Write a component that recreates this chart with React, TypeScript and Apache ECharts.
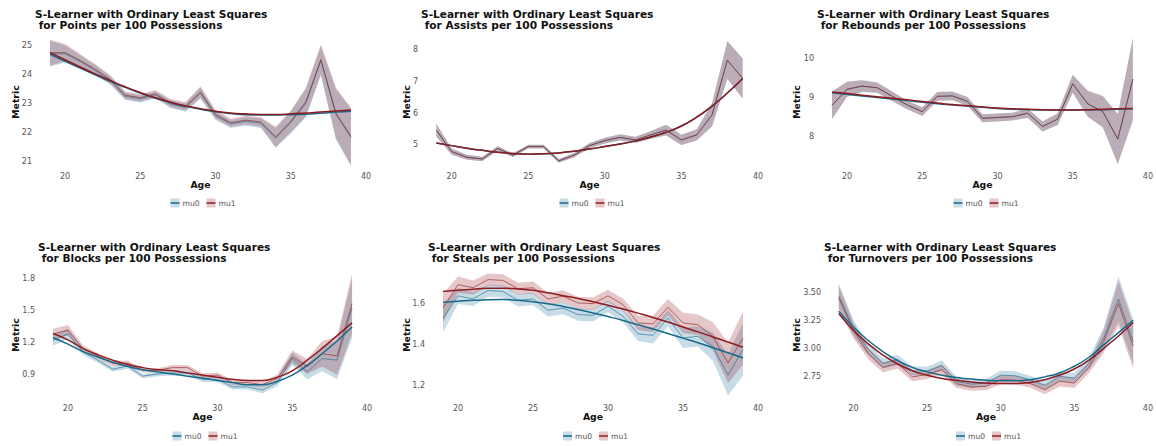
import React, { useEffect, useRef } from "react";
import * as echarts from "echarts";

const ages = [19, 20, 21, 22, 23, 24, 25, 26, 27, 28, 29, 30, 31, 32, 33, 34, 35, 36, 37, 38, 39];
const xTicks = [20, 25, 30, 35, 40];

const metrics = ["Points", "Assists", "Rebounds", "Blocks", "Steals", "Turnovers"];

// Points
const ptsMu0 = [24.73, 24.73, 24.46, 24.15, 23.8, 23.25, 23.16, 23.3, 22.98, 22.86, 23.36, 22.58, 22.29, 22.38, 22.32, 21.8, 22.34, 23.01, 24.49, 22.63, 21.82];
const ptsMu1 = [24.77, 24.77, 24.5, 24.19, 23.84, 23.29, 23.2, 23.34, 23.02, 22.9, 23.4, 22.62, 22.33, 22.42, 22.36, 21.84, 22.38, 23.05, 24.53, 22.67, 21.86];
const ptsHw = [0.45, 0.3, 0.22, 0.18, 0.15, 0.13, 0.13, 0.13, 0.14, 0.15, 0.2, 0.15, 0.14, 0.15, 0.17, 0.35, 0.38, 0.5, 0.52, 0.88, 1.0];
const ptsFit0 = [24.71, 24.47, 24.23, 24.0, 23.77, 23.56, 23.36, 23.18, 23.03, 22.9, 22.8, 22.71, 22.65, 22.61, 22.6, 22.6, 22.61, 22.63, 22.66, 22.7, 22.73];
const ptsFit1 = [24.77, 24.52, 24.27, 24.03, 23.8, 23.58, 23.38, 23.2, 23.05, 22.92, 22.82, 22.73, 22.67, 22.64, 22.62, 22.62, 22.64, 22.67, 22.7, 22.74, 22.77];

// Assists
const astMu0 = [5.47, 4.79, 4.61, 4.56, 4.89, 4.68, 4.95, 4.95, 4.5, 4.68, 4.98, 5.14, 5.24, 5.16, 5.32, 5.47, 5.16, 5.32, 5.95, 7.68, 7.1];
const astMu1 = [5.47, 4.79, 4.61, 4.56, 4.89, 4.68, 4.95, 4.95, 4.5, 4.68, 4.98, 5.14, 5.24, 5.16, 5.32, 5.47, 5.16, 5.32, 5.95, 7.68, 7.1];
const astHw = [0.2, 0.1, 0.08, 0.07, 0.07, 0.06, 0.06, 0.06, 0.06, 0.07, 0.08, 0.09, 0.1, 0.1, 0.12, 0.17, 0.16, 0.18, 0.37, 0.6, 0.63];
const astFit0 = [5.06, 4.98, 4.9, 4.83, 4.77, 4.73, 4.71, 4.72, 4.75, 4.8, 4.87, 4.95, 5.03, 5.13, 5.25, 5.4, 5.6, 5.88, 6.23, 6.64, 7.1];
const astFit1 = [5.06, 4.98, 4.9, 4.83, 4.77, 4.73, 4.71, 4.72, 4.75, 4.8, 4.87, 4.95, 5.03, 5.13, 5.25, 5.4, 5.6, 5.88, 6.23, 6.64, 7.1];

// Rebounds
const rebMu0 = [8.8, 9.21, 9.29, 9.25, 9.03, 8.81, 8.64, 9.03, 9.04, 8.9, 8.47, 8.49, 8.51, 8.6, 8.26, 8.45, 9.35, 8.84, 8.64, 7.94, 9.47];
const rebMu1 = [8.8, 9.21, 9.29, 9.25, 9.03, 8.81, 8.64, 9.03, 9.04, 8.9, 8.47, 8.49, 8.51, 8.6, 8.26, 8.45, 9.35, 8.84, 8.64, 7.94, 9.47];
const rebHw = [0.35, 0.19, 0.15, 0.13, 0.12, 0.11, 0.11, 0.11, 0.11, 0.11, 0.1, 0.1, 0.1, 0.12, 0.13, 0.15, 0.23, 0.33, 0.4, 0.64, 1.05];
const rebFit0 = [9.12, 9.08, 9.04, 9.0, 8.96, 8.92, 8.88, 8.84, 8.81, 8.78, 8.75, 8.72, 8.7, 8.69, 8.68, 8.68, 8.68, 8.68, 8.69, 8.7, 8.71];
const rebFit1 = [9.14, 9.1, 9.06, 9.02, 8.98, 8.94, 8.9, 8.86, 8.82, 8.79, 8.76, 8.73, 8.71, 8.7, 8.69, 8.68, 8.68, 8.69, 8.7, 8.71, 8.72];

// Blocks
const blkMu0 = [1.215, 1.275, 1.11, 1.03, 0.945, 0.975, 0.88, 0.9, 0.91, 0.91, 0.85, 0.85, 0.78, 0.78, 0.75, 0.82, 1.045, 0.92, 1.045, 1.03, 1.52];
const blkMu1 = [1.275, 1.31, 1.14, 1.07, 1.0, 1.0, 0.935, 0.935, 0.96, 0.96, 0.88, 0.89, 0.82, 0.82, 0.8, 0.86, 1.06, 0.97, 1.09, 1.07, 1.56];
const blkHw = [0.05, 0.05, 0.03, 0.025, 0.025, 0.025, 0.02, 0.02, 0.025, 0.025, 0.025, 0.025, 0.025, 0.025, 0.03, 0.035, 0.06, 0.07, 0.12, 0.18, 0.28];
const blkFit0 = [1.24, 1.18, 1.11, 1.06, 1.01, 0.97, 0.94, 0.92, 0.9, 0.88, 0.86, 0.84, 0.82, 0.8, 0.8, 0.83, 0.89, 0.98, 1.09, 1.21, 1.34];
const blkFit1 = [1.28, 1.22, 1.14, 1.08, 1.03, 0.99, 0.96, 0.94, 0.93, 0.91, 0.89, 0.87, 0.85, 0.84, 0.84, 0.87, 0.93, 1.03, 1.14, 1.26, 1.38];

// Steals
const stlMu0 = [1.53, 1.64, 1.625, 1.666, 1.662, 1.618, 1.625, 1.569, 1.58, 1.548, 1.544, 1.589, 1.54, 1.453, 1.446, 1.531, 1.433, 1.441, 1.39, 1.25, 1.377];
const stlMu1 = [1.58, 1.695, 1.68, 1.72, 1.716, 1.675, 1.68, 1.625, 1.638, 1.605, 1.602, 1.64, 1.597, 1.507, 1.502, 1.584, 1.507, 1.498, 1.44, 1.31, 1.433];
const stlHw = [0.07, 0.04, 0.035, 0.03, 0.03, 0.03, 0.03, 0.03, 0.03, 0.03, 0.03, 0.03, 0.03, 0.035, 0.04, 0.04, 0.05, 0.05, 0.07, 0.1, 0.13];
const stlFit0 = [1.608, 1.614, 1.618, 1.621, 1.622, 1.618, 1.611, 1.601, 1.588, 1.573, 1.556, 1.538, 1.519, 1.498, 1.477, 1.455, 1.432, 1.409, 1.385, 1.36, 1.334];
const stlFit1 = [1.662, 1.668, 1.673, 1.677, 1.678, 1.674, 1.667, 1.655, 1.641, 1.627, 1.611, 1.594, 1.575, 1.555, 1.534, 1.511, 1.487, 1.463, 1.438, 1.413, 1.387];

// Turnovers
const tovMu0 = [3.47, 3.18, 2.99, 2.865, 2.895, 2.8, 2.795, 2.845, 2.705, 2.68, 2.69, 2.76, 2.755, 2.72, 2.67, 2.75, 2.735, 2.865, 3.09, 3.44, 3.06];
const tovMu1 = [3.45, 3.16, 2.955, 2.83, 2.865, 2.745, 2.765, 2.81, 2.685, 2.655, 2.66, 2.72, 2.715, 2.685, 2.63, 2.705, 2.69, 2.83, 3.06, 3.4, 3.02];
const tovHw = [0.11, 0.07, 0.05, 0.045, 0.045, 0.04, 0.04, 0.045, 0.04, 0.035, 0.035, 0.04, 0.04, 0.035, 0.04, 0.045, 0.045, 0.05, 0.1, 0.2, 0.2];
const tovFit0 = [3.33, 3.19, 3.07, 2.97, 2.89, 2.83, 2.79, 2.76, 2.74, 2.725, 2.715, 2.71, 2.71, 2.72, 2.745, 2.78, 2.84, 2.92, 3.03, 3.14, 3.25];
const tovFit1 = [3.31, 3.16, 3.04, 2.94, 2.86, 2.8, 2.76, 2.73, 2.715, 2.7, 2.69, 2.685, 2.685, 2.695, 2.72, 2.76, 2.815, 2.895, 3.0, 3.11, 3.23];

const yTicks = [
  [21, 22, 23, 24, 25],
  [5, 6, 7, 8],
  [8, 9, 10],
  [0.9, 1.2, 1.5, 1.8],
  [1.2, 1.4, 1.6],
  [2.75, 3.0, 3.25, 3.5],
];
const yDecimals = [0, 0, 0, 1, 1, 2];

const panels = [
  { mu0: ptsMu0, mu1: ptsMu1, hw: ptsHw, fit0: ptsFit0, fit1: ptsFit1 },
  { mu0: astMu0, mu1: astMu1, hw: astHw, fit0: astFit0, fit1: astFit1 },
  { mu0: rebMu0, mu1: rebMu1, hw: rebHw, fit0: rebFit0, fit1: rebFit1 },
  { mu0: blkMu0, mu1: blkMu1, hw: blkHw, fit0: blkFit0, fit1: blkFit1 },
  { mu0: stlMu0, mu1: stlMu1, hw: stlHw, fit0: stlFit0, fit1: stlFit1 },
  { mu0: tovMu0, mu1: tovMu1, hw: tovHw, fit0: tovFit0, fit1: tovFit1 },
];

// layout (pixels) and axis extents
const layout = [
  { left: 35, top: 34, width: 331, height: 136, ymin: 20.687, ymax: 25.417, nameGap: 15 },
  { left: 421, top: 34, width: 337, height: 136, ymin: 4.21, ymax: 8.505, nameGap: 10.5 },
  { left: 817, top: 34, width: 333, height: 136, ymin: 7.15, ymax: 10.62, nameGap: 16 },
  { left: 38, top: 268, width: 329, height: 134, ymin: 0.6375, ymax: 1.894, nameGap: 18 },
  { left: 428, top: 268, width: 330, height: 134, ymin: 1.118, ymax: 1.777, nameGap: 17 },
  { left: 824, top: 268, width: 324, height: 134, ymin: 2.5205, ymax: 3.717, nameGap: 23 },
];

const FONT = "DejaVu Sans";
const C0 = "#17698a";
const C1 = "#8e1b20";
const B0 = "rgba(70,140,175,0.3)";
const B1 = "rgba(150,30,40,0.25)";

export default function App() {
  const ref = useRef<HTMLDivElement>(null);
  useEffect(() => {
    document.body.style.margin = "0";
    const chart = echarts.init(ref.current!, null, { renderer: "svg" });

    const grid: any[] = [];
    const xAxis: any[] = [];
    const yAxis: any[] = [];
    const title: any[] = [];
    const series: any[] = [];
    const graphic: any[] = [];

    layout.forEach((L, i) => {
      grid.push({ left: L.left, top: L.top, width: L.width, height: L.height });
      xAxis.push({
        type: "value",
        gridIndex: i,
        min: 18,
        max: 40,
        axisLine: { show: false },
        axisTick: { show: false },
        splitLine: { show: false },
        axisLabel: { customValues: xTicks, fontSize: 8, color: "#555", margin: 2, fontFamily: FONT },
        name: "Age",
        nameLocation: "middle",
        nameGap: 10,
        nameMoveOverlap: false,
        nameTextStyle: { fontSize: 9.3, fontWeight: "bold", color: "#111", fontFamily: FONT, verticalAlign: "top" },
      });
      yAxis.push({
        type: "value",
        gridIndex: i,
        min: L.ymin,
        max: L.ymax,
        axisLine: { show: false },
        axisTick: { show: false },
        splitLine: { show: false },
        axisLabel: {
          customValues: yTicks[i],
          fontSize: 8,
          color: "#555",
          margin: 3,
          fontFamily: FONT,
          formatter: (v: number) => v.toFixed(yDecimals[i]),
        },
        name: "Metric",
        nameLocation: "middle",
        nameGap: L.nameGap,
        nameMoveOverlap: false,
        nameTextStyle: { fontSize: 9.3, fontWeight: "bold", color: "#111", fontFamily: FONT },
      });
      title.push({
        text: "S-Learner with Ordinary Least Squares\n\u00a0for " + metrics[i] + " per 100 Possessions",
        left: L.left,
        top: L.top < 100 ? 8 : 241,
        padding: 0,
        textStyle: { fontSize: 10.6, fontWeight: "bold", color: "#111", fontFamily: FONT, lineHeight: 11.5 },
      });

      const P = panels[i];
      const band = (vals: number[], color: string) => ({
        type: "custom",
        xAxisIndex: i,
        yAxisIndex: i,
        silent: true,
        z: 1,
        data: ages.map((a, k) => [a, vals[k] - P.hw[k], vals[k] + P.hw[k]]),
        encode: { x: 0, y: [1, 2] },
        renderItem: (params: any, api: any) => {
          if (params.dataIndex !== 0) return null;
          const upper = ages.map((a, k) => api.coord([a, vals[k] + P.hw[k]]));
          const lower = ages.map((a, k) => api.coord([a, vals[k] - P.hw[k]])).reverse();
          return { type: "polygon", shape: { points: upper.concat(lower) }, style: { fill: color } };
        },
      });
      series.push(band(P.mu0, B0), band(P.mu1, B1));
      series.push(
        {
          type: "line", name: "mu0", xAxisIndex: i, yAxisIndex: i, symbol: "none", z: 2,
          lineStyle: { color: C0, width: 1, opacity: 0.6 },
          data: ages.map((a, k) => [a, P.mu0[k]]),
        },
        {
          type: "line", name: "mu1", xAxisIndex: i, yAxisIndex: i, symbol: "none", z: 2,
          lineStyle: { color: C1, width: 1, opacity: 0.6 },
          data: ages.map((a, k) => [a, P.mu1[k]]),
        },
        {
          type: "line", name: "mu0", xAxisIndex: i, yAxisIndex: i, symbol: "none", z: 3, smooth: true,
          lineStyle: { color: C0, width: 1.5 },
          data: ages.map((a, k) => [a, P.fit0[k]]),
        },
        {
          type: "line", name: "mu1", xAxisIndex: i, yAxisIndex: i, symbol: "none", z: 3, smooth: true,
          lineStyle: { color: C1, width: 1.5 },
          data: ages.map((a, k) => [a, P.fit1[k]]),
        }
      );

      const cx = L.left + L.width / 2;
      const cy = L.top < 100 ? 203 : 436;
      graphic.push(
        { type: "rect", shape: { x: cx - 30, y: cy - 4.5, width: 9, height: 9 }, style: { fill: B0 } },
        { type: "line", shape: { x1: cx - 30, y1: cy, x2: cx - 21, y2: cy }, style: { stroke: C0, lineWidth: 1.5 } },
        { type: "text", x: cx - 18, y: cy, style: { text: "mu0", fontSize: 7.6, fill: "#555", fontFamily: FONT, verticalAlign: "middle" } },
        { type: "rect", shape: { x: cx + 6, y: cy - 4.5, width: 9, height: 9 }, style: { fill: B1 } },
        { type: "line", shape: { x1: cx + 6, y1: cy, x2: cx + 15, y2: cy }, style: { stroke: C1, lineWidth: 1.5 } },
        { type: "text", x: cx + 18, y: cy, style: { text: "mu1", fontSize: 7.6, fill: "#555", fontFamily: FONT, verticalAlign: "middle" } }
      );
    });

    chart.setOption({
      animation: false,
      backgroundColor: "#ffffff",
      title,
      grid,
      xAxis,
      yAxis,
      series,
      graphic,
    });
    return () => chart.dispose();
  }, []);
  return <div ref={ref} style={{ width: 1156, height: 446 }} />;
}
